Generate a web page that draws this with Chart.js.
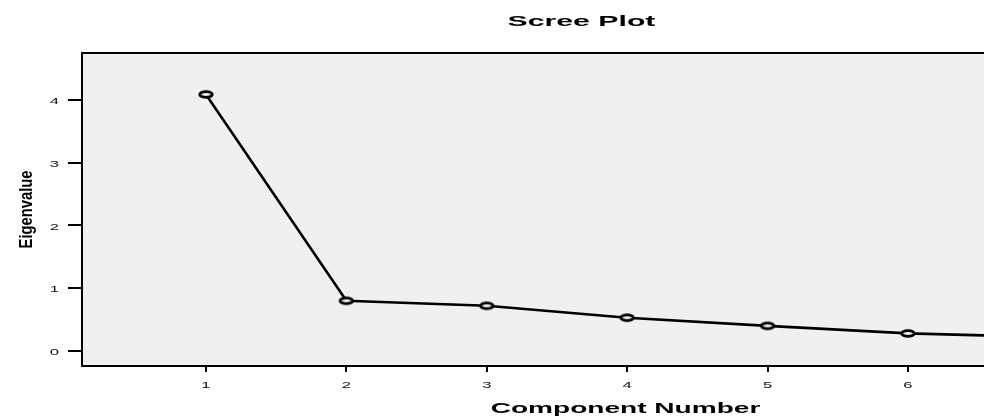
<!DOCTYPE html>
<html>
<head>
<meta charset="utf-8">
<script src="https://cdn.jsdelivr.net/npm/chart.js@4/dist/chart.umd.min.js"></script>
<style>
  html, body { margin: 0; padding: 0; background: #fff; overflow: hidden; }
  canvas { display: block; }
</style>
</head>
<body>
<canvas id="scree" width="1120" height="416"></canvas>
<script>
// Scree plot data
const components = [1, 2, 3, 4, 5, 6, 7];
const eigenvalues = [4.09, 0.80, 0.72, 0.53, 0.40, 0.28, 0.22];
const xTicks = [1, 2, 3, 4, 5, 6, 7];
const yTicks = [0, 1, 2, 3, 4];

const chartTitle = 'Scree Plot';
const xTitle = 'Component Number';
const yTitle = 'Eigenvalue';

const plotBg = '#f0f0f0';
const font = '"Liberation Sans", Arial, Helvetica, sans-serif';

// Ellipse marker (the original output is stretched sideways)
function makeMarker() {
  const c = document.createElement('canvas');
  c.width = 18;
  c.height = 11;
  const g = c.getContext('2d');
  g.beginPath();
  g.ellipse(9, 5.5, 6.3, 2.9, 0, 0, Math.PI * 2);
  g.fillStyle = plotBg;
  g.fill();
  g.lineWidth = 2.8;
  g.strokeStyle = '#000';
  g.stroke();
  return c;
}

// Draw text squeezed / stretched along its own direction
function stretchText(ctx, text, x, y, opts) {
  ctx.save();
  ctx.translate(x, y);
  if (opts.rotate) ctx.rotate(opts.rotate);
  ctx.scale(opts.sx || 1, opts.sy || 1);
  ctx.font = opts.font;
  ctx.fillStyle = opts.color || '#000';
  ctx.textAlign = opts.align || 'center';
  ctx.textBaseline = opts.baseline || 'alphabetic';
  ctx.fillText(text, 0, 0);
  ctx.restore();
}

const framePlugin = {
  id: 'frame',
  beforeDraw(chart) {
    const { ctx, chartArea: a } = chart;
    ctx.save();
    ctx.fillStyle = plotBg;
    ctx.fillRect(a.left, a.top, a.right - a.left, a.bottom - a.top);
    ctx.restore();
  },
  afterDraw(chart) {
    const { ctx, chartArea: a, scales } = chart;
    // top edge of the frame
    ctx.save();
    ctx.strokeStyle = '#000';
    ctx.lineWidth = 2;
    ctx.beginPath();
    ctx.moveTo(a.left - 1, a.top);
    ctx.lineTo(a.right, a.top);
    ctx.stroke();
    ctx.restore();

    // tick labels
    scales.x.ticks.forEach((t) => {
      stretchText(ctx, String(t.value), scales.x.getPixelForValue(t.value), a.bottom + 22, {
        font: '9.5px ' + font, sx: 1.75, color: '#111'
      });
    });
    scales.y.ticks.forEach((t) => {
      stretchText(ctx, String(t.value), a.left - 23, scales.y.getPixelForValue(t.value) + 1.5, {
        font: '9.5px ' + font, sx: 1.75, color: '#111', align: 'right', baseline: 'middle'
      });
    });

    // titles
    stretchText(ctx, chartTitle, 581.5, 25.7, { font: 'bold 15.5px ' + font, sx: 1.95 });
    stretchText(ctx, xTitle, 625.5, 412.5, { font: 'bold 15px ' + font, sx: 1.87 });
    stretchText(ctx, yTitle, 32, (a.top + a.bottom) / 2, {
      font: 'bold 18px ' + font, sx: 0.82, rotate: -Math.PI / 2
    });
  }
};

const ctx = document.getElementById('scree').getContext('2d');

new Chart(ctx, {
  type: 'scatter',
  data: {
    datasets: [
      {
        data: components.map((c, i) => ({ x: c, y: eigenvalues[i] })),
        showLine: true,
        borderColor: '#000',
        borderWidth: 2.6,
        pointStyle: makeMarker(),
        pointRadius: 6,
      },
    ],
  },
  options: {
    responsive: false,
    animation: false,
    events: [],
    layout: { padding: { left: 0, top: 53, right: 20, bottom: 0 } },
    plugins: {
      legend: { display: false },
      tooltip: { enabled: false },
    },
    scales: {
      x: {
        type: 'linear',
        min: 0.117,
        max: 0.117 + 1018 / 140.4,
        afterBuildTicks: (s) => { s.ticks = xTicks.map((v) => ({ value: v })); },
        afterFit: (s) => { s.height = 50; },
        ticks: { display: false },
        grid: { drawOnChartArea: false, color: '#000', lineWidth: 2, tickLength: 6 },
        border: { color: '#000', width: 2 },
      },
      y: {
        min: -0.24,
        max: 4.75,
        afterBuildTicks: (s) => { s.ticks = yTicks.map((v) => ({ value: v })); },
        afterFit: (s) => { s.width = 82; },
        ticks: { display: false },
        grid: { drawOnChartArea: false, color: '#000', lineWidth: 2, tickLength: 14 },
        border: { color: '#000', width: 2 },
      },
    },
  },
  plugins: [framePlugin],
});
</script>
</body>
</html>
